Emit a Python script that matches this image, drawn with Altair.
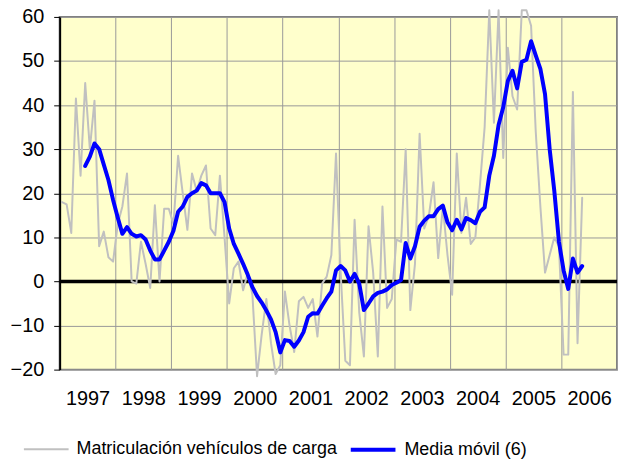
import json
import altair as alt
import pandas as pd

years = list(range(1997, 2007))
serie_names = ["Matriculación vehículos de carga", "Media móvil (6)"]

# Monthly values from January 1997
matriculacion = [
    18, 17.5, 11, 41.5, 24, 45, 30, 41, 8, 11.3,
    5.5, 4.5, 13, 17, 24.5, 0, -0.5, 9, 4, -1.5,
    17.3, 0, 16.5, 16.5, 13, 28.5, 20, 11.7, 24.5, 20.5,
    24, 26.3, 12, 10.5, 24, 10, -5, 3, 4.5, -2,
    2, -3, -21.5, -12, -4, -14, -21, -19, -2.3, -10,
    -16, -4.5, -3.5, -6, -4, -12.5, -0.5, 1.1, 6, 29,
    2, -18, -19, 14, -7, -17, 12.5, 2, -17, 17,
    -6, -4, 9.5, 9, 30, -6.5, 4, 33.5, 12, 15,
    22.5, 5.3, 17, 6, -3, 29, 11, 19, 8.5, 10,
    22, 35, 61.5, 36, 61.5, 28, 53, 42, 39, 61.5,
    61.5, 58, 34, 17, 2, 6, 10, 8, -16.6, -16.6,
    43, -14, 19,
]

# 6-month moving average, first value in June 1997
media_movil = [
    26.2, 28.3, 31.3, 30, 26.5, 23, 18.5, 14.5, 10.8, 12.3,
    10.8, 10.2, 10.5, 9.5, 7, 5, 5, 7, 9, 11.5,
    15.8, 17, 19.2, 20, 20.6, 22.3, 21.8, 20, 20, 20,
    18, 12, 8.5, 6.3, 4, 1.5, -1.3, -3.3, -4.8, -6.6,
    -8.6, -11.5, -16.1, -13.3, -13.5, -14.8, -13.4, -11.5, -8, -7.2,
    -7.3, -5.5, -3.8, -2.3, 2.5, 3.5, 2.5, 0, 1.7, -0.5,
    -6.5, -5, -3.4, -2.6, -2.3, -1.8, -0.8, -0.3, 0.3, 8.7,
    5.2, 8, 12.4, 13.8, 14.8, 14.8, 16.4, 17.2, 13.4, 11.6,
    14, 11.8, 14.4, 13.9, 13.2, 15.8, 16.8, 24, 28.5, 35.5,
    39.5, 45.5, 47.8, 43.8, 49.8, 50.3, 54.5, 51.3, 48.2, 42.5,
    30, 20.5, 9, 2.5, -1.7, 5.2, 2, 3.5,
]

months_per_year = 12
n_months = months_per_year * len(years)
offset = len(matriculacion) - len(media_movil)

rows = []
for i, v in enumerate(matriculacion):
    rows.append({"mes": i + 0.5, "valor": v, "serie": serie_names[0]})
for j, v in enumerate(media_movil):
    rows.append({"mes": j + offset + 0.5, "valor": v, "serie": serie_names[1]})
df = pd.DataFrame(rows)

FONT = "Liberation Sans, Arial, sans-serif"

W, H = 561, 355

year_labels = json.dumps([str(y) for y in years])
label_expr = (
    f"datum.value < {n_months} ? {year_labels}[round(datum.value / {months_per_year})] : ''"
)

x_enc = alt.X(
    "mes:Q",
    scale=alt.Scale(domain=[0, n_months], nice=False, zero=False),
    axis=alt.Axis(
        values=list(range(0, n_months + 1, months_per_year)),
        labelExpr=label_expr,
        labelOffset=W / len(years) / 2,
        labelPadding=19,
        labelFontSize=20,
        labelFont=FONT,
        labelColor="black",
        labelFlush=False,
        labelOverlap=False,
        labelBound=False,
        grid=True,
        gridColor="#999999",
        gridWidth=1,
        domain=False,
        ticks=False,
        title=None,
    ),
)
y_enc = alt.Y(
    "valor:Q",
    scale=alt.Scale(domain=[-20, 60], nice=False, zero=False),
    axis=alt.Axis(
        values=list(range(-20, 61, 10)),
        grid=True,
        gridColor="#999999",
        gridWidth=1,
        domainColor="black",
        domainWidth=2,
        tickColor="black",
        tickSize=6,
        tickWidth=1,
        labelFontSize=20,
        labelFont=FONT,
        labelColor="black",
        labelPadding=10,
        title=None,
    ),
)

leg = alt.Legend(
    orient="none",
    legendX=-37,
    legendY=411,
    direction="horizontal",
    title=None,
    symbolType="stroke",
    symbolSize=2025,
    labelFontSize=18,
    labelFont=FONT,
    labelColor="black",
    labelOffset=7,
    labelLimit=500,
    columnPadding=5,
    padding=0,
)
color_scale = alt.Scale(domain=serie_names, range=["#C0C0C0", "#0000FF"])
width_scale = alt.Scale(domain=serie_names, range=[2, 4])

zero_line = alt.Chart(pd.DataFrame({"valor": [0]})).mark_rule(
    color="black", strokeWidth=3.5
).encode(y=alt.Y("valor:Q"))

def series_layer(name):
    return (
        alt.Chart(df)
        .transform_filter(alt.datum.serie == name)
        .mark_line(strokeJoin="round", strokeCap="round")
        .encode(
            x=x_enc,
            y=y_enc,
            color=alt.Color("serie:N", scale=color_scale, legend=leg),
            strokeWidth=alt.StrokeWidth("serie:N", scale=width_scale, legend=leg),
        )
    )

chart = (
    alt.layer(zero_line, series_layer(serie_names[0]), series_layer(serie_names[1]))
    .properties(
        width=W,
        height=H,
        autosize=alt.AutoSizeParams(type="none"),
        padding={"left": 52, "top": 7.5, "right": 2, "bottom": 91.5},
    )
    .configure_view(fill="#FFFFCC", stroke="#808080", strokeWidth=2)
)

chart.save("out.html", embed_options={"renderer": "svg", "actions": False})
